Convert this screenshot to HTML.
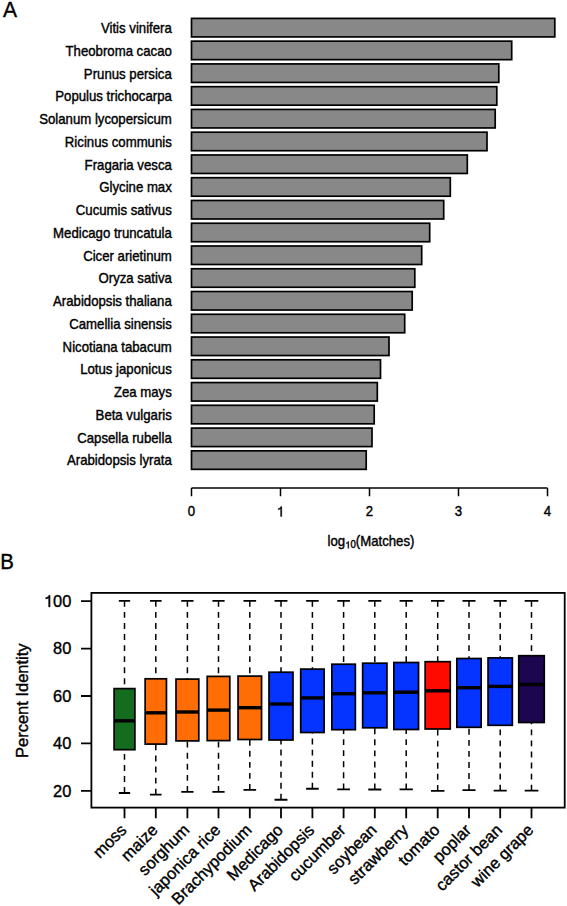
<!DOCTYPE html>
<html><head><meta charset="utf-8"><style>
html,body{margin:0;padding:0;background:#fff;}
svg{display:block;font-family:"Liberation Sans",sans-serif;}
text{stroke:#000;stroke-width:0.38px;}
.h{fill:none;stroke:none;}
</style></head><body>
<svg width="567" height="906" viewBox="0 0 567 906" fill="#000">
<text transform="translate(2.90 16.90) scale(0.95 1.0)" font-size="22.2">A</text>
<rect x="191.5" y="18.40" width="363.30" height="18.5" fill="#888" stroke="#000" stroke-width="1.7"/>
<text transform="translate(171.80 33.05) scale(1.0 1.05)" font-size="13.2" text-anchor="end">Vitis vinifera</text>
<rect x="191.5" y="41.16" width="320.20" height="18.5" fill="#888" stroke="#000" stroke-width="1.7"/>
<text transform="translate(171.80 55.81) scale(1.0 1.05)" font-size="13.2" text-anchor="end">Theobroma cacao</text>
<rect x="191.5" y="63.92" width="307.30" height="18.5" fill="#888" stroke="#000" stroke-width="1.7"/>
<text transform="translate(171.80 78.57) scale(1.0 1.05)" font-size="13.2" text-anchor="end">Prunus persica</text>
<rect x="191.5" y="86.68" width="305.30" height="18.5" fill="#888" stroke="#000" stroke-width="1.7"/>
<text transform="translate(171.80 101.33) scale(1.0 1.05)" font-size="13.2" text-anchor="end">Populus trichocarpa</text>
<rect x="191.5" y="109.44" width="303.70" height="18.5" fill="#888" stroke="#000" stroke-width="1.7"/>
<text transform="translate(171.80 124.09) scale(1.0 1.05)" font-size="13.2" text-anchor="end">Solanum lycopersicum</text>
<rect x="191.5" y="132.20" width="295.50" height="18.5" fill="#888" stroke="#000" stroke-width="1.7"/>
<text transform="translate(171.80 146.85) scale(1.0 1.05)" font-size="13.2" text-anchor="end">Ricinus communis</text>
<rect x="191.5" y="154.96" width="275.80" height="18.5" fill="#888" stroke="#000" stroke-width="1.7"/>
<text transform="translate(171.80 169.61) scale(1.0 1.05)" font-size="13.2" text-anchor="end">Fragaria vesca</text>
<rect x="191.5" y="177.72" width="258.80" height="18.5" fill="#888" stroke="#000" stroke-width="1.7"/>
<text transform="translate(171.80 192.37) scale(1.0 1.05)" font-size="13.2" text-anchor="end">Glycine max</text>
<rect x="191.5" y="200.48" width="252.20" height="18.5" fill="#888" stroke="#000" stroke-width="1.7"/>
<text transform="translate(171.80 215.13) scale(1.0 1.05)" font-size="13.2" text-anchor="end">Cucumis sativus</text>
<rect x="191.5" y="223.24" width="238.20" height="18.5" fill="#888" stroke="#000" stroke-width="1.7"/>
<text transform="translate(171.80 237.89) scale(1.0 1.05)" font-size="13.2" text-anchor="end">Medicago truncatula</text>
<rect x="191.5" y="246.00" width="230.20" height="18.5" fill="#888" stroke="#000" stroke-width="1.7"/>
<text transform="translate(171.80 260.65) scale(1.0 1.05)" font-size="13.2" text-anchor="end">Cicer arietinum</text>
<rect x="191.5" y="268.76" width="223.30" height="18.5" fill="#888" stroke="#000" stroke-width="1.7"/>
<text transform="translate(171.80 283.41) scale(1.0 1.05)" font-size="13.2" text-anchor="end">Oryza sativa</text>
<rect x="191.5" y="291.52" width="220.70" height="18.5" fill="#888" stroke="#000" stroke-width="1.7"/>
<text transform="translate(171.80 306.17) scale(1.0 1.05)" font-size="13.2" text-anchor="end">Arabidopsis thaliana</text>
<rect x="191.5" y="314.28" width="213.20" height="18.5" fill="#888" stroke="#000" stroke-width="1.7"/>
<text transform="translate(171.80 328.93) scale(1.0 1.05)" font-size="13.2" text-anchor="end">Camellia sinensis</text>
<rect x="191.5" y="337.04" width="197.50" height="18.5" fill="#888" stroke="#000" stroke-width="1.7"/>
<text transform="translate(171.80 351.69) scale(1.0 1.05)" font-size="13.2" text-anchor="end">Nicotiana tabacum</text>
<rect x="191.5" y="359.80" width="189.00" height="18.5" fill="#888" stroke="#000" stroke-width="1.7"/>
<text transform="translate(171.80 374.45) scale(1.0 1.05)" font-size="13.2" text-anchor="end">Lotus japonicus</text>
<rect x="191.5" y="382.56" width="185.80" height="18.5" fill="#888" stroke="#000" stroke-width="1.7"/>
<text transform="translate(171.80 397.21) scale(1.0 1.05)" font-size="13.2" text-anchor="end">Zea mays</text>
<rect x="191.5" y="405.32" width="182.70" height="18.5" fill="#888" stroke="#000" stroke-width="1.7"/>
<text transform="translate(171.80 419.97) scale(1.0 1.05)" font-size="13.2" text-anchor="end">Beta vulgaris</text>
<rect x="191.5" y="428.08" width="180.50" height="18.5" fill="#888" stroke="#000" stroke-width="1.7"/>
<text transform="translate(171.80 442.73) scale(1.0 1.05)" font-size="13.2" text-anchor="end">Capsella rubella</text>
<rect x="191.5" y="450.84" width="174.70" height="18.5" fill="#888" stroke="#000" stroke-width="1.7"/>
<text transform="translate(171.80 465.49) scale(1.0 1.05)" font-size="13.2" text-anchor="end">Arabidopsis lyrata</text>
<path d="M191.5 487.9H547.5M191.5 487.9V496.3M280.5 487.9V496.3M369.5 487.9V496.3M458.5 487.9V496.3M547.5 487.9V496.3" stroke="#000" stroke-width="1.5" fill="none"/>
<text transform="translate(191.50 516.40) scale(1.0 1.1)" font-size="13.2" text-anchor="middle">0</text>
<text transform="translate(280.50 516.40) scale(1.0 1.1)" font-size="13.2" text-anchor="middle" id="one_a"><tspan class="h">1</tspan></text>
<text transform="translate(369.50 516.40) scale(1.0 1.1)" font-size="13.2" text-anchor="middle">2</text>
<text transform="translate(458.50 516.40) scale(1.0 1.1)" font-size="13.2" text-anchor="middle">3</text>
<text transform="translate(547.50 516.40) scale(1.0 1.1)" font-size="13.2" text-anchor="middle">4</text>
<text transform="translate(371.00 545.50) scale(1.0 1.05)" font-size="13.2" text-anchor="middle" id="one_log">log<tspan font-size="9.6" dy="2.6"><tspan class="h">1</tspan>0</tspan><tspan dy="-2.6">(Matches)</tspan></text>
<text transform="translate(0.20 569.20) scale(0.92 1.0)" font-size="22.2">B</text>
<path d="M124.5 600.9V688.6M124.5 793.0V749.7" stroke="#000" stroke-width="1.5" stroke-dasharray="5.9 5.16" fill="none"/>
<path d="M118.85 600.9H130.15M118.85 793.0H130.15" stroke="#000" stroke-width="1.8" fill="none"/>
<rect x="114.10" y="688.6" width="20.8" height="61.10" fill="#146c1e" stroke="#000" stroke-width="1.7"/>
<path d="M114.10 720.8H134.90" stroke="#000" stroke-width="3.4" fill="none"/>
<path d="M155.8 600.9V678.8M155.8 794.6V744.1" stroke="#000" stroke-width="1.5" stroke-dasharray="5.9 5.16" fill="none"/>
<path d="M150.03 600.9H161.58M150.03 794.6H161.58" stroke="#000" stroke-width="1.8" fill="none"/>
<rect x="145.15" y="678.8" width="21.3" height="65.30" fill="#ff6d04" stroke="#000" stroke-width="1.7"/>
<path d="M145.15 712.8H166.45" stroke="#000" stroke-width="3.4" fill="none"/>
<path d="M187.4 600.9V679.1M187.4 791.85V740.9" stroke="#000" stroke-width="1.5" stroke-dasharray="5.9 5.16" fill="none"/>
<path d="M181.25 600.9H193.55M181.25 791.85H193.55" stroke="#000" stroke-width="1.8" fill="none"/>
<rect x="176.00" y="679.1" width="22.8" height="61.80" fill="#ff6d04" stroke="#000" stroke-width="1.7"/>
<path d="M176.00 712.0H198.80" stroke="#000" stroke-width="3.4" fill="none"/>
<path d="M218.5 600.9V676.4M218.5 791.85V740.6" stroke="#000" stroke-width="1.5" stroke-dasharray="5.9 5.16" fill="none"/>
<path d="M212.40 600.9H224.60M212.40 791.85H224.60" stroke="#000" stroke-width="1.8" fill="none"/>
<rect x="207.20" y="676.4" width="22.6" height="64.20" fill="#ff6d04" stroke="#000" stroke-width="1.7"/>
<path d="M207.20 710.1H229.80" stroke="#000" stroke-width="3.4" fill="none"/>
<path d="M249.8 600.9V676.1M249.8 789.9V739.5" stroke="#000" stroke-width="1.5" stroke-dasharray="5.9 5.16" fill="none"/>
<path d="M243.48 600.9H256.12M243.48 789.9H256.12" stroke="#000" stroke-width="1.8" fill="none"/>
<rect x="238.05" y="676.1" width="23.5" height="63.40" fill="#ff6d04" stroke="#000" stroke-width="1.7"/>
<path d="M238.05 707.7H261.55" stroke="#000" stroke-width="3.4" fill="none"/>
<path d="M281.0 600.9V672.2M281.0 799.75V740.0" stroke="#000" stroke-width="1.5" stroke-dasharray="5.9 5.16" fill="none"/>
<path d="M274.55 600.9H287.45M274.55 799.75H287.45" stroke="#000" stroke-width="1.8" fill="none"/>
<rect x="269.00" y="672.2" width="24.0" height="67.80" fill="#0533ff" stroke="#000" stroke-width="1.7"/>
<path d="M269.00 704.0H293.00" stroke="#000" stroke-width="3.4" fill="none"/>
<path d="M312.4 600.9V669.1M312.4 788.75V732.5" stroke="#000" stroke-width="1.5" stroke-dasharray="5.9 5.16" fill="none"/>
<path d="M306.10 600.9H318.70M306.10 788.75H318.70" stroke="#000" stroke-width="1.8" fill="none"/>
<rect x="300.70" y="669.1" width="23.4" height="63.40" fill="#0533ff" stroke="#000" stroke-width="1.7"/>
<path d="M300.70 697.9H324.10" stroke="#000" stroke-width="3.4" fill="none"/>
<path d="M343.6 600.9V664.2M343.6 789.3V729.7" stroke="#000" stroke-width="1.5" stroke-dasharray="5.9 5.16" fill="none"/>
<path d="M337.28 600.9H349.93M337.28 789.3H349.93" stroke="#000" stroke-width="1.8" fill="none"/>
<rect x="331.85" y="664.2" width="23.5" height="65.50" fill="#0533ff" stroke="#000" stroke-width="1.7"/>
<path d="M331.85 693.7H355.35" stroke="#000" stroke-width="3.4" fill="none"/>
<path d="M374.8 600.9V663.2M374.8 789.5V727.8" stroke="#000" stroke-width="1.5" stroke-dasharray="5.9 5.16" fill="none"/>
<path d="M368.28 600.9H381.32M368.28 789.5H381.32" stroke="#000" stroke-width="1.8" fill="none"/>
<rect x="362.65" y="663.2" width="24.3" height="64.60" fill="#0533ff" stroke="#000" stroke-width="1.7"/>
<path d="M362.65 692.8H386.95" stroke="#000" stroke-width="3.4" fill="none"/>
<path d="M406.2 600.9V662.5M406.2 789.3V729.5" stroke="#000" stroke-width="1.5" stroke-dasharray="5.9 5.16" fill="none"/>
<path d="M399.57 600.9H412.82M399.57 789.3H412.82" stroke="#000" stroke-width="1.8" fill="none"/>
<rect x="393.85" y="662.5" width="24.7" height="67.00" fill="#0533ff" stroke="#000" stroke-width="1.7"/>
<path d="M393.85 692.2H418.55" stroke="#000" stroke-width="3.4" fill="none"/>
<path d="M437.7 600.9V661.7M437.7 790.8V729.0" stroke="#000" stroke-width="1.5" stroke-dasharray="5.9 5.16" fill="none"/>
<path d="M430.97 600.9H444.43M430.97 790.8H444.43" stroke="#000" stroke-width="1.8" fill="none"/>
<rect x="425.15" y="661.7" width="25.1" height="67.30" fill="#ff0a00" stroke="#000" stroke-width="1.7"/>
<path d="M425.15 690.8H450.25" stroke="#000" stroke-width="3.4" fill="none"/>
<path d="M469.0 600.9V658.5M469.0 790.05V727.3" stroke="#000" stroke-width="1.5" stroke-dasharray="5.9 5.16" fill="none"/>
<path d="M462.48 600.9H475.52M462.48 790.05H475.52" stroke="#000" stroke-width="1.8" fill="none"/>
<rect x="456.85" y="658.5" width="24.3" height="68.80" fill="#0533ff" stroke="#000" stroke-width="1.7"/>
<path d="M456.85 687.7H481.15" stroke="#000" stroke-width="3.4" fill="none"/>
<path d="M500.2 600.9V657.9M500.2 790.6V725.3" stroke="#000" stroke-width="1.5" stroke-dasharray="5.9 5.16" fill="none"/>
<path d="M493.68 600.9H506.72M493.68 790.6H506.72" stroke="#000" stroke-width="1.8" fill="none"/>
<rect x="488.05" y="657.9" width="24.3" height="67.40" fill="#0533ff" stroke="#000" stroke-width="1.7"/>
<path d="M488.05 686.4H512.35" stroke="#000" stroke-width="3.4" fill="none"/>
<path d="M531.5 600.9V655.7M531.5 790.6V722.5" stroke="#000" stroke-width="1.5" stroke-dasharray="5.9 5.16" fill="none"/>
<path d="M524.67 600.9H538.33M524.67 790.6H538.33" stroke="#000" stroke-width="1.8" fill="none"/>
<rect x="518.75" y="655.7" width="25.5" height="66.80" fill="#1c0650" stroke="#000" stroke-width="1.7"/>
<path d="M518.75 684.5H544.25" stroke="#000" stroke-width="3.4" fill="none"/>
<rect x="91.4" y="592.9" width="473.30" height="214.70" fill="none" stroke="#000" stroke-width="1.8"/>
<path d="M91.4 790.90H81M91.4 743.45H81M91.4 696.00H81M91.4 648.55H81M91.4 601.10H81" stroke="#000" stroke-width="1.8" fill="none"/>
<text transform="translate(71.30 796.70) scale(1.0 1.05)" font-size="16.4" text-anchor="end">20</text>
<text transform="translate(71.30 749.25) scale(1.0 1.05)" font-size="16.4" text-anchor="end">40</text>
<text transform="translate(71.30 701.80) scale(1.0 1.05)" font-size="16.4" text-anchor="end">60</text>
<text transform="translate(71.30 654.35) scale(1.0 1.05)" font-size="16.4" text-anchor="end">80</text>
<text transform="translate(71.30 606.90) scale(1.0 1.05)" font-size="16.4" text-anchor="end" id="one_100"><tspan class="h">1</tspan>00</text>
<text transform="translate(27.90 758.00) rotate(-90) scale(1.0 1.05)" font-size="16.5">Percent Identity</text>
<path d="M124.5 807.6V818.2M155.8 807.6V818.2M187.4 807.6V818.2M218.5 807.6V818.2M249.8 807.6V818.2M281.0 807.6V818.2M312.4 807.6V818.2M343.6 807.6V818.2M374.8 807.6V818.2M406.2 807.6V818.2M437.7 807.6V818.2M469.0 807.6V818.2M500.2 807.6V818.2M531.5 807.6V818.2" stroke="#000" stroke-width="1.8" fill="none"/>
<text transform="translate(123.30 826.80) rotate(-45)" font-size="16.5" text-anchor="end" dominant-baseline="central">moss</text>
<text transform="translate(154.60 826.80) rotate(-45)" font-size="16.5" text-anchor="end" dominant-baseline="central">maize</text>
<text transform="translate(186.20 826.80) rotate(-45)" font-size="16.5" text-anchor="end" dominant-baseline="central">sorghum</text>
<text transform="translate(217.30 826.80) rotate(-45)" font-size="16.5" text-anchor="end" dominant-baseline="central">japonica rice</text>
<text transform="translate(248.60 826.80) rotate(-45)" font-size="16.5" text-anchor="end" dominant-baseline="central">Brachypodium</text>
<text transform="translate(279.80 826.80) rotate(-45)" font-size="16.5" text-anchor="end" dominant-baseline="central">Medicago</text>
<text transform="translate(311.20 826.80) rotate(-45)" font-size="16.5" text-anchor="end" dominant-baseline="central">Arabidopsis</text>
<text transform="translate(342.40 826.80) rotate(-45)" font-size="16.5" text-anchor="end" dominant-baseline="central">cucumber</text>
<text transform="translate(373.60 826.80) rotate(-45)" font-size="16.5" text-anchor="end" dominant-baseline="central">soybean</text>
<text transform="translate(405.00 826.80) rotate(-45)" font-size="16.5" text-anchor="end" dominant-baseline="central">strawberry</text>
<text transform="translate(436.50 826.80) rotate(-45)" font-size="16.5" text-anchor="end" dominant-baseline="central">tomato</text>
<text transform="translate(467.80 826.80) rotate(-45)" font-size="16.5" text-anchor="end" dominant-baseline="central">poplar</text>
<text transform="translate(499.00 826.80) rotate(-45)" font-size="16.5" text-anchor="end" dominant-baseline="central">castor bean</text>
<text transform="translate(530.30 826.80) rotate(-45)" font-size="16.5" text-anchor="end" dominant-baseline="central">wine grape</text>
<path transform="translate(276.83 516.40) scale(13.2 -14.520)" d="M0.283 0H0.375V0.68H0.3C0.28 0.6 0.2 0.55 0.11 0.545V0.46C0.18 0.465 0.24 0.49 0.283 0.52Z" stroke="#000" stroke-width="0.38" vector-effect="non-scaling-stroke"/>
<path transform="translate(345.16 548.23) scale(9.6 -10.080)" d="M0.283 0H0.375V0.68H0.3C0.28 0.6 0.2 0.55 0.11 0.545V0.46C0.18 0.465 0.24 0.49 0.283 0.52Z" stroke="#000" stroke-width="0.38" vector-effect="non-scaling-stroke"/>
<path transform="translate(43.96 606.90) scale(16.4 -17.220)" d="M0.283 0H0.375V0.68H0.3C0.28 0.6 0.2 0.55 0.11 0.545V0.46C0.18 0.465 0.24 0.49 0.283 0.52Z" stroke="#000" stroke-width="0.38" vector-effect="non-scaling-stroke"/>
</svg>
</body></html>
